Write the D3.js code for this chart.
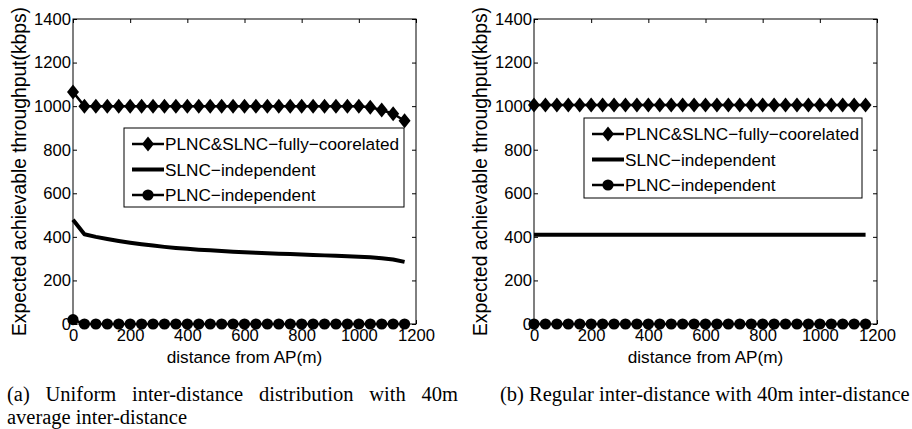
<!DOCTYPE html>
<html>
<head>
<meta charset="utf-8">
<script src="https://cdn.jsdelivr.net/npm/d3@7"></script>
<style>
  body { margin: 0; background: #fff; }
  svg { display: block; }
  .axis text { font-family: "Liberation Sans", Arial, sans-serif; font-size: 16.6px; fill: #000; }
  .axis path, .axis line { stroke: #000; stroke-width: 1; }
  .label { font-family: "Liberation Sans", Arial, sans-serif; font-size: 17.2px; fill: #000; }
  .ylabel { font-size: 19.3px; }
  .caption { font-family: "Liberation Serif", "Times New Roman", serif; font-size: 20.5px; fill: #000; }
</style>
</head>
<body>
<div id="chart"></div>
<script>

// distance from AP (m)
const distance = [0, 40, 80, 120, 160, 200, 240, 280, 320, 360, 400, 440, 480, 520, 560,
                  600, 640, 680, 720, 760, 800, 840, 880, 920, 960, 1000, 1040, 1080, 1120, 1160];

// (a) uniform inter-distance distribution
const fullyUniform = [1065, 1000, 1000, 1000, 1000, 1000, 1000, 1000, 1000, 1000, 1000, 1000, 1000, 1000, 1000,
                      1000, 1000, 1000, 1000, 1000, 1000, 1000, 1000, 1000, 1000, 1000, 995, 982, 965, 933];
const slncUniform = [478, 412, 400, 390, 381, 373, 366, 360, 354, 349, 345, 341, 338, 335, 332,
                     329, 327, 325, 323, 321, 319, 317, 315, 313, 311, 309, 306, 302, 296, 285];
const plncUniform = [20, 0, 0, 0, 0, 0, 0, 0, 0, 0, 0, 0, 0, 0, 0,
                     0, 0, 0, 0, 0, 0, 0, 0, 0, 0, 0, 0, 0, 0, 0];

// (b) regular inter-distance
const fullyRegular = [1005, 1005, 1005, 1005, 1005, 1005, 1005, 1005, 1005, 1005, 1005, 1005, 1005, 1005, 1005,
                      1005, 1005, 1005, 1005, 1005, 1005, 1005, 1005, 1005, 1005, 1005, 1005, 1005, 1005, 1005];
const slncRegular = [410, 410, 410, 410, 410, 410, 410, 410, 410, 410, 410, 410, 410, 410, 410,
                     410, 410, 410, 410, 410, 410, 410, 410, 410, 410, 410, 410, 410, 410, 410];
const plncRegular = [0, 0, 0, 0, 0, 0, 0, 0, 0, 0, 0, 0, 0, 0, 0,
                     0, 0, 0, 0, 0, 0, 0, 0, 0, 0, 0, 0, 0, 0, 0];

const seriesNames = ["PLNC&SLNC\u2212fully\u2212coorelated", "SLNC\u2212independent", "PLNC\u2212independent"];
const xTicks = [0, 200, 400, 600, 800, 1000, 1200];
const yTicks = [0, 200, 400, 600, 800, 1000, 1200, 1400];

const xLabel = "distance from AP(m)";
const yLabel = "Expected achievable throughput(kbps)";
const captionA = ["(a) Uniform inter-distance distribution with 40m", "average inter-distance"];
const captionB = ["(b) Regular inter-distance with 40m inter-distance"];

const W = 912, H = 429;
const plotW = 343, plotH = 305, plotTop = 19;

const svg = d3.select("#chart").append("svg")
    .attr("width", W)
    .attr("height", H);

const panels = [
    { left: 73, series: [fullyUniform, slncUniform, plncUniform], legend: { x: 51, y: 109, w: 280, h: 79 } },
    { left: 534, series: [fullyRegular, slncRegular, plncRegular], legend: { x: 50, y: 99, w: 278, h: 80 } }
];

// line width and marker per series
const styles = [
    { width: 2.5, marker: "diamond" },
    { width: 4, marker: null },
    { width: 2.5, marker: "circle" }
];

function drawMarker(g, type, x, y) {
    if (type === "diamond") {
        g.append("path")
            .attr("d", `M${x},${y - 7.5}L${x + 6},${y}L${x},${y + 7.5}L${x - 6},${y}Z`)
            .attr("fill", "#000");
    } else if (type === "circle") {
        g.append("circle")
            .attr("cx", x).attr("cy", y).attr("r", 5.6)
            .attr("fill", "#000");
    }
}

panels.forEach(function(p) {
    let g = svg.append("g")
        .attr("transform", "translate(" + p.left + "," + plotTop + ")");

    let x = d3.scaleLinear().domain([0, 1200]).range([0, plotW]);
    let y = d3.scaleLinear().domain([0, 1400]).range([plotH, 0]);

    // box
    g.append("rect")
        .attr("width", plotW).attr("height", plotH)
        .attr("fill", "none").attr("stroke", "#000").attr("stroke-width", 1);

    // axes with inward ticks, MATLAB style
    g.append("g").attr("class", "axis")
        .attr("transform", "translate(0," + plotH + ")")
        .call(d3.axisBottom(x).tickValues(xTicks).tickFormat(d3.format("d"))
            .tickSizeInner(-4).tickSizeOuter(0).tickPadding(5))
        .call(s => s.selectAll("text").attr("dy", "0.72em"));
    g.append("g").attr("class", "axis")
        .call(d3.axisTop(x).tickValues(xTicks).tickSizeInner(-4).tickSizeOuter(0).tickFormat(""));
    g.append("g").attr("class", "axis")
        .call(d3.axisLeft(y).tickValues(yTicks).tickFormat(d3.format("d"))
            .tickSizeInner(-4).tickSizeOuter(0).tickPadding(2));
    g.append("g").attr("class", "axis")
        .attr("transform", "translate(" + plotW + ",0)")
        .call(d3.axisRight(y).tickValues(yTicks).tickSizeInner(-4).tickSizeOuter(0).tickFormat(""));
    g.selectAll(".axis .domain").remove();

    // lines and markers
    let line = d3.line()
        .x((d, i) => x(distance[i]))
        .y(d => y(d));

    p.series.forEach(function(values, k) {
        g.append("path")
            .datum(values)
            .attr("d", line)
            .attr("fill", "none")
            .attr("stroke", "#000")
            .attr("stroke-width", styles[k].width)
            .attr("stroke-linejoin", "round");
        values.forEach(function(v, i) {
            drawMarker(g, styles[k].marker, x(distance[i]), y(v));
        });
    });

    // legend
    let lg = g.append("g")
        .attr("transform", "translate(" + p.legend.x + "," + p.legend.y + ")");
    lg.append("rect")
        .attr("width", p.legend.w).attr("height", p.legend.h)
        .attr("fill", "#fff").attr("stroke", "#000").attr("stroke-width", 1);
    seriesNames.forEach(function(name, k) {
        let cy = 16 + k * 25.5;
        lg.append("line")
            .attr("x1", 8).attr("x2", 40).attr("y1", cy).attr("y2", cy)
            .attr("stroke", "#000").attr("stroke-width", styles[k].width);
        drawMarker(lg, styles[k].marker, 24, cy);
        lg.append("text")
            .attr("class", "label")
            .attr("x", 41).attr("y", cy)
            .attr("dy", "0.35em")
            .text(name);
    });

    // axis labels
    g.append("text")
        .attr("class", "label")
        .attr("x", plotW / 2).attr("y", plotH + 39)
        .attr("text-anchor", "middle")
        .text(xLabel);
    g.append("text")
        .attr("class", "label ylabel")
        .attr("transform", "translate(-47," + (plotH / 2) + ") rotate(-90)")
        .attr("text-anchor", "middle")
        .text(yLabel);
});

// captions; first line of (a) is justified like in the paper
function justified(xStart, xEnd, yBase, str) {
    let words = str.split(" ");
    let nodes = words.map(w => svg.append("text").attr("class", "caption").attr("y", yBase).text(w));
    let widths = nodes.map(n => n.node().getComputedTextLength());
    let gap = (xEnd - xStart - d3.sum(widths)) / (words.length - 1);
    let pos = xStart;
    nodes.forEach(function(n, i) {
        n.attr("x", pos);
        pos += widths[i] + gap;
    });
}

justified(7, 458, 401, captionA[0]);
svg.append("text").attr("class", "caption")
    .attr("x", 7).attr("y", 424)
    .text(captionA[1]);
svg.append("text").attr("class", "caption")
    .attr("x", 500).attr("y", 401)
    .text(captionB[0]);

</script>
</body>
</html>
